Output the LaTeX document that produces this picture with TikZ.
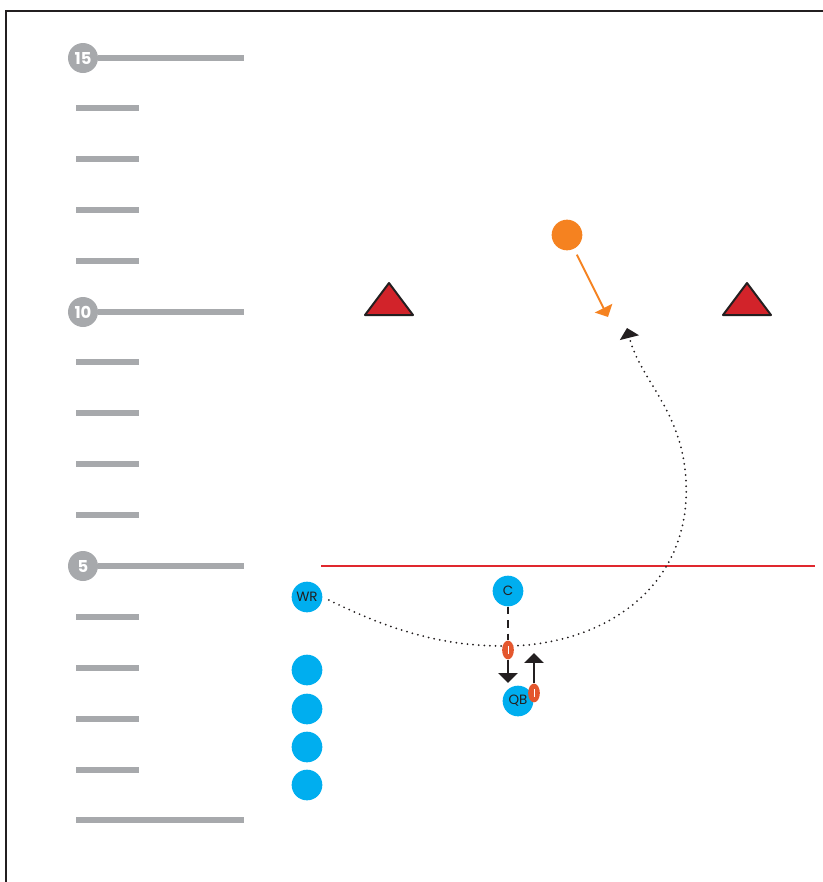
\documentclass[tikz,border=0pt]{standalone}
\usepackage{fontspec}
\setmainfont{Poppins}
\usetikzlibrary{arrows.meta,shapes.geometric,calc}

\definecolor{fieldgray}{HTML}{A7A9AC}
\definecolor{playerblue}{HTML}{00AEEF}
\definecolor{deforange}{HTML}{F58220}
\definecolor{conered}{HTML}{D2232A}
\definecolor{losred}{HTML}{E0282E}
\definecolor{ballred}{HTML}{E4572E}
\definecolor{inkdark}{HTML}{231F20}

\begin{document}
\begin{tikzpicture}[
  x=0.03cm, y=-0.03cm,
  every node/.style={font=\fontsize{11.5}{13}\selectfont, text=inkdark},
  % yard markers along the left edge
  yard/.style={draw=fieldgray, line width=5.1pt},
  yardnum/.style={
    circle,
    fill=fieldgray,
    minimum size=0.9cm,
    inner sep=0pt,
    text=white,
    font=\fontsize{14}{15}\selectfont\bfseries
  },
  player/.style={
    circle,
    fill=playerblue,
    minimum size=0.92cm,
    inner sep=0pt
  },
  defender/.style={circle, fill=deforange, minimum size=0.92cm, inner sep=0pt},
  ball/.style={
    ellipse,
    fill=ballred,
    minimum width=10pt,
    minimum height=16pt,
    inner sep=0pt
  },
  lace/.style={draw=white, line width=0.6pt},
  cone/.style={fill=conered, draw=inkdark, line width=1.7pt, line join=round},
  los/.style={draw=losred, line width=1.3pt},
  route/.style={draw=inkdark, line width=1.7pt, line cap=round,
    dash pattern=on 0pt off 4.8pt},
  snap/.style={draw=inkdark, line width=1.5pt},
  tip/.style={-{Triangle[length=8.5pt, width=16.5pt]}},
  blitz/.style={draw=deforange, line width=1.6pt,
    -{Triangle[length=8.5pt, width=16.5pt, fill=deforange]}}
]

\useasboundingbox (0,0) rectangle (823,882);

% Frame (open at right and bottom)
\draw[draw=inkdark, line width=1.7pt] (6,882) -- (6,11) -- (823,11);

% Yard lines with numbers
\node[yardnum] (y15) at (83,58) {15};
\node[yardnum] (y10) at (83,312) {10};
\node[yardnum] (y5) at (83,566) {5};
\draw[yard] (y15.east) -- (244,58);
\draw[yard] (y10.east) -- (244,312);
\draw[yard] (y5.east) -- (244,566);
\draw[yard] (76,820) -- (244,820);

% Short ticks between the numbered lines
\draw[yard] (76,108) -- (139,108);
\draw[yard] (76,159) -- (139,159);
\draw[yard] (76,210) -- (139,210);
\draw[yard] (76,261) -- (139,261);
\draw[yard] (76,362) -- (139,362);
\draw[yard] (76,413) -- (139,413);
\draw[yard] (76,464) -- (139,464);
\draw[yard] (76,515) -- (139,515);
\draw[yard] (76,617) -- (139,617);
\draw[yard] (76,668) -- (139,668);
\draw[yard] (76,719) -- (139,719);
\draw[yard] (76,770) -- (139,770);

% Line of scrimmage
\draw[los] (321,566) -- (815,566);

% Cones
\draw[cone] (365,315) -- (389,283) -- (413,315) -- cycle;
\draw[cone] (723,315) -- (747,283) -- (771,315) -- cycle;

% Offense
\node[player] (wr) at (307,597) {WR};
\node[player] (ctr) at (508,591) {C};
\node[player] (qb) at (518,701) {QB};
\node[player] (wait1) at (307,670) {};
\node[player] (wait2) at (307,709) {};
\node[player] (wait3) at (307,747) {};
\node[player] (wait4) at (307,785) {};

% Defender and his drop
\node[defender] (lb) at (567,235) {};
\coordinate (drop) at (608,317);
\draw[blitz, shorten <=5.5pt] (lb) -- (drop);

% WR route: under the snap, then up the seam
\coordinate (catch) at (627,328);
\draw[route, tip, shorten <=6pt] (wr.east)
  .. controls (400,635) and (450,646) .. (505,646)
  .. controls (600,646) and (692,590) .. (686,480)
  .. controls (682,410) and (640,380) .. (catch);

% Snap and toss
\node[ball] (fb1) at (508,650) {};
\node[ball] (fb2) at (534,693) {};
\draw[lace] ($(fb1.center)+(0,-4)$) -- ($(fb1.center)+(0,4)$);
\draw[lace] ($(fb2.center)+(0,-4)$) -- ($(fb2.center)+(0,4)$);
\coordinate (snapend) at (508,683);
\coordinate (tossend) at (534,653);
\draw[snap, dash pattern=on 6.5pt off 5pt] (ctr.south) -- (fb1.north);
\draw[snap, tip] (fb1.south) -- (snapend);
\draw[snap, tip] (fb2.north) -- (tossend);

\end{tikzpicture}
\end{document}
